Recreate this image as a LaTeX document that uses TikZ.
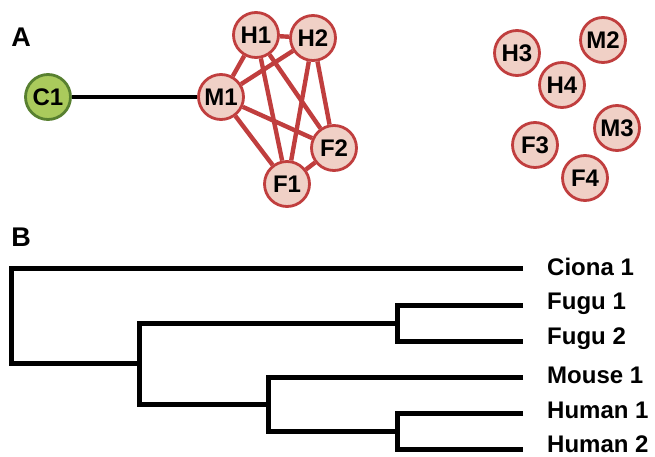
\documentclass[tikz,border=0pt]{standalone}
\usepackage{fontspec}
\setmainfont{Liberation Sans}
\usepackage{tikz}
\tikzset{>=latex}

\definecolor{gfill}{RGB}{240,208,198}
\definecolor{gline}{RGB}{192,62,62}
\definecolor{cfill}{RGB}{170,202,92}
\definecolor{cline}{RGB}{88,128,48}

\begin{document}
\begin{tikzpicture}[x=1pt,y=-1pt,
	genenode/.style={circle,fill=gfill,draw=gline,line width=2.8pt,minimum size=45pt,inner sep=0pt,font=\fontsize{24}{28}\selectfont\bfseries},
	outnode/.style={circle,fill=cfill,draw=cline,line width=2.8pt,minimum size=45pt,inner sep=0pt,font=\fontsize{24}{28}\selectfont\bfseries},
	link/.style={gline,line width=4.4pt},
	branch/.style={black,line width=5pt},
	leaf/.style={anchor=west,inner sep=0pt,font=\fontsize{24}{28}\selectfont\bfseries},
	panel/.style={inner sep=0pt,font=\fontsize{27}{30}\selectfont\bfseries}]

	\useasboundingbox (0,0) rectangle (655,457);

	% panel A: the network
	\node[panel] (la) at (21,37) {A};

	\node[outnode] (c1) at (48,97) {C1};
	\node[genenode] (m1) at (221,97) {M1};
	\node[genenode] (h1) at (256,35) {H1};
	\node[genenode] (h2) at (313,38) {H2};
	\node[genenode] (f2) at (334,148) {F2};
	\node[genenode] (f1) at (287,184) {F1};

	\path (c1) edge[black, line width=4.8pt] (m1)
	(m1) edge[link] (h1) (m1) edge[link] (h2)
	(m1) edge[link] (f1) (m1) edge[link] (f2)
	(h1) edge[link] (h2) (h1) edge[link] (f1) (h1) edge[link] (f2)
	(h2) edge[link] (f1) (h2) edge[link] (f2)
	(f1) edge[link] (f2);

	\node[genenode] (h3) at (517,53) {H3};
	\node[genenode] (m2) at (603,40) {M2};
	\node[genenode] (h4) at (562,85) {H4};
	\node[genenode] (m3) at (617,128) {M3};
	\node[genenode] (f3) at (535,145) {F3};
	\node[genenode] (f4) at (585,178) {F4};

	% panel B: the tree
	\node[panel] (lb) at (21,237) {B};

	\coordinate (t1) at (523,268);
	\coordinate (t2) at (523,305);
	\coordinate (t3) at (523,341);
	\coordinate (t4) at (523,377);
	\coordinate (t5) at (523,413);
	\coordinate (t6) at (523,449);
	\coordinate (nfugu) at (397,323);
	\coordinate (nhum) at (397,431);
	\coordinate (nmh) at (268,404);
	\coordinate (nvert) at (139,363);
	\coordinate (nroot) at (11,315);

	\node[leaf] (ciona1) at (547,267) {Ciona 1};
	\node[leaf] (fugu1) at (547,304) {Fugu 1};
	\node[leaf] (fugu2) at (547,339) {Fugu 2};
	\node[leaf] (mouse1) at (547,375) {Mouse 1};
	\node[leaf] (human1) at (547,410) {Human 1};
	\node[leaf] (human2) at (547,444) {Human 2};

	\draw[branch] (t1) -| (nroot) |- (nvert);
	\draw[branch] (nfugu) -| (nvert) |- (nmh);
	\draw[branch] (t2) -| (nfugu) |- (t3);
	\draw[branch] (t4) -| (nmh) |- (nhum);
	\draw[branch] (t5) -| (nhum) |- (t6);
\end{tikzpicture}
\end{document}
